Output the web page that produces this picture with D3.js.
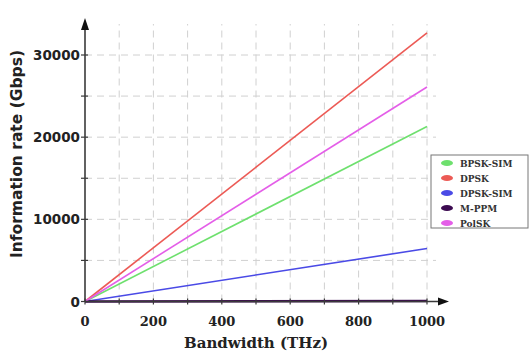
<!DOCTYPE html>
<html>
<head>
<meta charset="utf-8">
<script src="https://cdn.jsdelivr.net/npm/d3@7"></script>
<style>
  body { margin: 0; background: #fff; }
  svg { display: block; }
</style>
</head>
<body>
<svg id="plot"></svg>
<script>
const width = 532;
const height = 356;

// data: information rate (Gbps) vs bandwidth (THz)
const bandwidth = [0, 1000];
const seriesNames = ['BPSK-SIM', 'DPSK', 'DPSK-SIM', 'M-PPM', 'PolSK'];
const bpskSim = [0, 21300];
const dpsk = [0, 32700];
const dpskSim = [0, 6450];
const mppm = [0, 60];
const polsk = [0, 26100];
const seriesColors = ['#6ee06e', '#ec5a55', '#4a4ae6', '#3c0a50', '#e45ee8'];

const xTicks = [0, 200, 400, 600, 800, 1000];
const yTicks = [0, 10000, 20000, 30000];

let svg, sx, sy;

function main(){
  svg = d3.select('svg#plot')
  .attr('width', width)
  .attr('height', height);

  sx = d3.scaleLinear().domain([0, 1000]).range([85, 427]);
  sy = d3.scaleLinear().domain([0, 30000]).range([301.5, 55]);

  drawGrid();
  drawLines();
  drawAxes();
  drawLegend();
}

function drawGrid(){
  let g = svg.append('g').attr('stroke', '#d0d0d0').attr('stroke-width', 1)
  .attr('stroke-dasharray', '7,5');

  g.selectAll('.vgrid')
  .data(d3.range(100, 1001, 100))
  .enter()
  .append('line')
  .attr('x1', d=>sx(d)).attr('x2', d=>sx(d))
  .attr('y1', sy(0)).attr('y2', 24);

  g.selectAll('.hgrid')
  .data(d3.range(5000, 30001, 5000))
  .enter()
  .append('line')
  .attr('x1', sx(0)).attr('x2', 436)
  .attr('y1', d=>sy(d)).attr('y2', d=>sy(d));
}

function drawLines(){
  const all = [bpskSim, dpsk, dpskSim, mppm, polsk];
  const line = d3.line()
  .x((d,i)=>sx(bandwidth[i]))
  .y(d=>sy(d));

  svg.selectAll('.series')
  .data(all)
  .enter()
  .append('path')
  .attr('class', 'series')
  .attr('fill', 'none')
  .attr('stroke', (d,i)=>seriesColors[i])
  .attr('stroke-width', (d,i)=>i==3 ? 2.5 : 1.6)
  .attr('d', line);
}

function drawAxes(){
  const axisColor = '#3a3a3a';
  let g = svg.append('g');

  // x axis with arrow
  g.append('line')
  .attr('x1', sx(0)).attr('x2', 442)
  .attr('y1', sy(0)).attr('y2', sy(0))
  .attr('stroke', axisColor).attr('stroke-width', 1.6);
  g.append('path')
  .attr('d', `M449,${sy(0)} L438,${sy(0)-4} L438,${sy(0)+4} Z`)
  .attr('fill', '#111');

  // y axis with arrow
  g.append('line')
  .attr('x1', sx(0)).attr('x2', sx(0))
  .attr('y1', sy(0)).attr('y2', 28)
  .attr('stroke', axisColor).attr('stroke-width', 1.6);
  g.append('path')
  .attr('d', `M${sx(0)},18 L${sx(0)-4},30 L${sx(0)+4},30 Z`)
  .attr('fill', '#111');

  // small tick marks
  g.selectAll('.xtick')
  .data(d3.range(0, 1001, 100))
  .enter()
  .append('line')
  .attr('x1', d=>sx(d)).attr('x2', d=>sx(d))
  .attr('y1', sy(0)-3).attr('y2', sy(0)+3)
  .attr('stroke', axisColor).attr('stroke-width', 1.2);

  g.selectAll('.ytick')
  .data(d3.range(0, 30001, 5000))
  .enter()
  .append('line')
  .attr('x1', sx(0)-4).attr('x2', sx(0)+3)
  .attr('y1', d=>sy(d)).attr('y2', d=>sy(d))
  .attr('stroke', axisColor).attr('stroke-width', 1.2);

  // tick labels
  g.selectAll('.xlabel')
  .data(xTicks)
  .enter()
  .append('text')
  .attr('x', d=>sx(d))
  .attr('y', 326)
  .attr('text-anchor', 'middle')
  .attr('font-family', 'DejaVu Serif')
  .attr('font-weight', 'bold')
  .attr('font-size', 13)
  .attr('fill', '#222')
  .text(d=>d);

  g.selectAll('.ylabel')
  .data(yTicks)
  .enter()
  .append('text')
  .attr('x', sx(0)-5)
  .attr('y', d=>sy(d)+5)
  .attr('text-anchor', 'end')
  .attr('font-family', 'DejaVu Sans')
  .attr('font-weight', 'bold')
  .attr('font-size', 13.5)
  .attr('fill', '#222')
  .text(d=>d);

  // axis titles
  g.append('text')
  .attr('x', 256)
  .attr('y', 348)
  .attr('text-anchor', 'middle')
  .attr('font-family', 'DejaVu Serif')
  .attr('font-weight', 'bold')
  .attr('font-size', 15)
  .attr('fill', '#222')
  .text('Bandwidth (THz)');

  g.append('text')
  .attr('transform', 'translate(22,154) rotate(-90)')
  .attr('text-anchor', 'middle')
  .attr('font-family', 'DejaVu Sans')
  .attr('font-weight', 'bold')
  .attr('font-size', 15.5)
  .attr('fill', '#222')
  .text('Information rate (Gbps)');
}

function drawLegend(){
  let g = svg.append('g');
  g.append('rect')
  .attr('x', 431).attr('y', 155)
  .attr('width', 97).attr('height', 73)
  .attr('fill', '#fff')
  .attr('stroke', '#777')
  .attr('stroke-width', 1);

  let sLeg = d3.scaleLinear().domain([0, 4]).range([163, 223]);

  g.selectAll('.legSwatch')
  .data(seriesNames)
  .enter()
  .append('ellipse')
  .attr('cx', 447)
  .attr('cy', (d,i)=>sLeg(i))
  .attr('rx', 6).attr('ry', 3)
  .attr('fill', (d,i)=>seriesColors[i]);

  g.selectAll('.legText')
  .data(seriesNames)
  .enter()
  .append('text')
  .attr('x', 460)
  .attr('y', (d,i)=>sLeg(i)+3.5)
  .attr('font-family', 'DejaVu Serif Condensed, DejaVu Serif')
  .attr('font-weight', 'bold')
  .attr('font-size', 10)
  .attr('fill', '#333')
  .text(d=>d);
}

document.addEventListener('DOMContentLoaded', main);
</script>
</body>
</html>
